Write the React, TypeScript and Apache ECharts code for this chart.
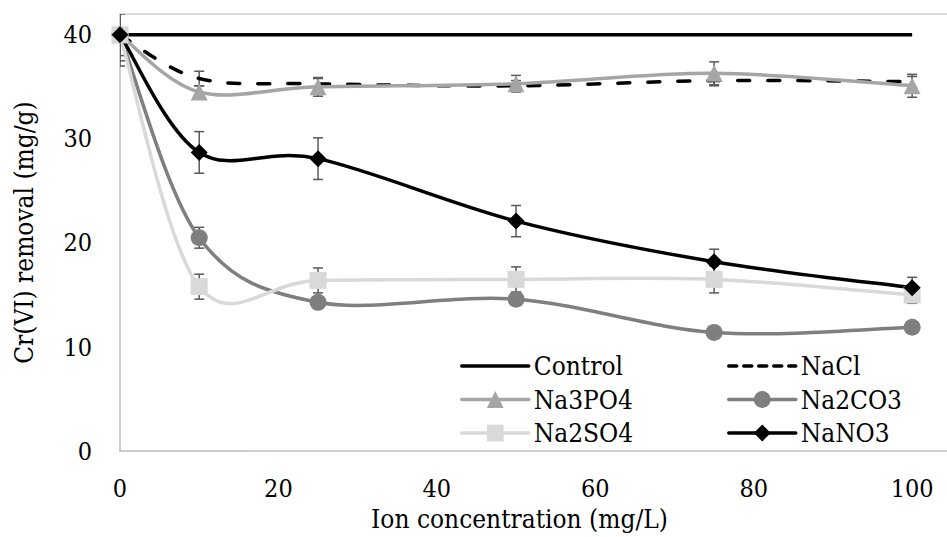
import { useEffect, useRef } from "react";
import * as echarts from "echarts";

const concentrations = [0, 10, 25, 50, 75, 100];
const controlValues = [40, 40, 40, 40, 40, 40];
const naclValues = [40, 35.8, 35.3, 35.1, 35.6, 35.5];
const naclErrors = [0, 0.7, 0.5, 0.5, 0.5, 0.5];
const na3po4Values = [40, 34.5, 35.0, 35.3, 36.3, 35.1];
const na3po4Errors = [0, 0.6, 0.9, 0.8, 1.1, 1.1];
const na2co3Values = [40, 20.5, 14.3, 14.6, 11.4, 11.9];
const na2co3Errors = [2.5, 1.0, 0.5, 0.5, 0.3, 0.3];
const na2so4Values = [40, 15.8, 16.4, 16.5, 16.5, 15.0];
const na2so4Errors = [3.0, 1.2, 1.2, 1.2, 1.3, 0.8];
const nano3Values = [40, 28.7, 28.1, 22.1, 18.2, 15.7];
const nano3Errors = [2.0, 2.0, 2.0, 1.5, 1.2, 1.0];
const xTicks = [0, 20, 40, 60, 80, 100];
const yTicks = [0, 10, 20, 30, 40];

const FONT = "DejaVu Serif Condensed, DejaVu Serif";

function pairs(vals: number[]) {
  return concentrations.map((x, i) => [x, vals[i]]);
}
function triples(vals: number[], errs: number[]) {
  return concentrations.map((x, i) => [x, vals[i], errs[i]]);
}

function errorSeries(vals: number[], errs: number[]) {
  return {
    type: "custom",
    z: 1,
    clip: true,
    silent: true,
    encode: { x: 0, y: 1 },
    data: triples(vals, errs),
    renderItem: (_params: any, api: any) => {
      const x = api.value(0);
      const y = api.value(1);
      const e = api.value(2);
      if (!e) return null;
      const top = api.coord([x, y + e]);
      const bot = api.coord([x, y - e]);
      const hw = 5;
      const style = { stroke: "#595959", lineWidth: 1.5 };
      return {
        type: "group",
        children: [
          { type: "line", shape: { x1: top[0], y1: top[1], x2: bot[0], y2: bot[1] }, style },
          { type: "line", shape: { x1: top[0] - hw, y1: top[1], x2: top[0] + hw, y2: top[1] }, style },
          { type: "line", shape: { x1: bot[0] - hw, y1: bot[1], x2: bot[0] + hw, y2: bot[1] }, style },
        ],
      };
    },
  };
}

function curveSeries(vals: number[], color: string, dash?: number[]) {
  return {
    type: "custom",
    z: 2,
    clip: true,
    silent: true,
    encode: { x: 0, y: 1 },
    data: [[concentrations[0], vals[0]]],
    renderItem: (_params: any, api: any) => {
      const pts = concentrations.map((x, i) => api.coord([x, vals[i]]));
      let d = `M${pts[0][0]},${pts[0][1]}`;
      for (let i = 0; i < pts.length - 1; i++) {
        const p0 = pts[i - 1] || pts[i];
        const p1 = pts[i];
        const p2 = pts[i + 1];
        const p3 = pts[i + 2] || pts[i + 1];
        const c1x = p1[0] + (p2[0] - p0[0]) / 6;
        const c1y = p1[1] + (p2[1] - p0[1]) / 6;
        const c2x = p2[0] - (p3[0] - p1[0]) / 6;
        const c2y = p2[1] - (p3[1] - p1[1]) / 6;
        d += ` C${c1x},${c1y} ${c2x},${c2y} ${p2[0]},${p2[1]}`;
      }
      return {
        type: "path",
        shape: { pathData: d },
        style: {
          fill: "none",
          stroke: color,
          lineWidth: 3.5,
          lineDash: dash || null,
          lineCap: dash ? "round" : "butt",
        },
      };
    },
  };
}

function markerSeries(name: string, vals: number[], color: string, symbol: string, dash?: number[]) {
  return {
    name,
    type: "line",
    z: 3,
    data: pairs(vals),
    symbol,
    symbolSize: 17,
    itemStyle: { color },
    lineStyle: { color, width: 3.5, opacity: 0, type: dash || "solid", cap: "round" },
  };
}

export default function App() {
  const ref = useRef<HTMLDivElement>(null);
  useEffect(() => {
    if (!ref.current) return;
    const chart = echarts.init(ref.current, undefined, { renderer: "svg" });
    const legendCommon = {
      orient: "vertical",
      itemWidth: 67,
      itemHeight: 21,
      itemGap: 7.5,
      top: 348,
      lineStyle: { opacity: 1, width: 3.5 },
      textStyle: { fontFamily: FONT, fontSize: 26, color: "#000" },
      selectedMode: false,
    };
    const noSym = { opacity: 0 };
    chart.setOption({
      animation: false,
      backgroundColor: "#fff",
      textStyle: { fontFamily: FONT },
      grid: { left: 120, right: 0, top: 14, bottom: 79 },
      legend: [
        {
          ...legendCommon,
          left: 455,
          data: [{ name: "Control", itemStyle: noSym }, "Na3PO4", "Na2SO4"],
        },
        {
          ...legendCommon,
          left: 722,
          data: [{ name: "NaCl", itemStyle: noSym }, "Na2CO3", "NaNO3"],
        },
      ],
      xAxis: [
        {
          type: "value",
          min: 0,
          max: 104.4,
          interval: 20,
          name: "Ion concentration (mg/L)",
          nameLocation: "middle",
          nameGap: 53,
          nameTextStyle: { fontFamily: FONT, fontSize: 26, color: "#000", padding: [0, 28, 0, 0] },
          axisLine: { show: true, lineStyle: { color: "#bfbfbf", width: 1.5 } },
          axisTick: { show: false },
          splitLine: { show: false },
          axisLabel: {
            margin: 25,
            fontFamily: FONT,
            fontSize: 25,
            color: "#000",
            showMaxLabel: false,
            formatter: (v: number) => (xTicks.includes(v) ? String(v) : ""),
          },
        },
        {
          type: "value",
          position: "top",
          min: 0,
          max: 104.4,
          axisLine: { show: true, lineStyle: { color: "#d0d0d0", width: 1.5 } },
          axisTick: { show: false },
          axisLabel: { show: false },
          splitLine: { show: false },
        },
      ],
      yAxis: {
        type: "value",
        min: 0,
        max: 42,
        interval: 10,
        name: "Cr(VI) removal (mg/g)",
        nameLocation: "middle",
        nameGap: 83,
        nameTextStyle: { fontFamily: FONT, fontSize: 26, color: "#000" },
        axisLine: { show: true, lineStyle: { color: "#bfbfbf", width: 1.5 } },
        axisTick: { show: false },
        splitLine: { show: false },
        axisLabel: {
          margin: 28,
          fontFamily: FONT,
          fontSize: 25,
          color: "#000",
          showMaxLabel: false,
          formatter: (v: number) => (yTicks.includes(v) ? String(v) : ""),
        },
      },
      series: [
        errorSeries(naclValues, naclErrors),
        errorSeries(na3po4Values, na3po4Errors),
        errorSeries(na2co3Values, na2co3Errors),
        errorSeries(na2so4Values, na2so4Errors),
        errorSeries(nano3Values, nano3Errors),
        curveSeries(controlValues, "#000000"),
        curveSeries(naclValues, "#000000", [12, 18]),
        curveSeries(na3po4Values, "#a5a5a5"),
        curveSeries(na2co3Values, "#7f7f7f"),
        curveSeries(na2so4Values, "#d9d9d9"),
        curveSeries(nano3Values, "#000000"),
        markerSeries("Control", controlValues, "#000000", "none"),
        markerSeries("NaCl", naclValues, "#000000", "none", [8, 7]),
        markerSeries("Na3PO4", na3po4Values, "#a5a5a5", "triangle"),
        markerSeries("Na2CO3", na2co3Values, "#7f7f7f", "circle"),
        markerSeries("Na2SO4", na2so4Values, "#d9d9d9", "rect"),
        markerSeries("NaNO3", nano3Values, "#000000", "diamond"),
      ],
    });
    return () => chart.dispose();
  }, []);
  return (
    <div
      ref={ref}
      style={{ position: "fixed", left: 0, top: 0, width: 947, height: 537 }}
    />
  );
}
